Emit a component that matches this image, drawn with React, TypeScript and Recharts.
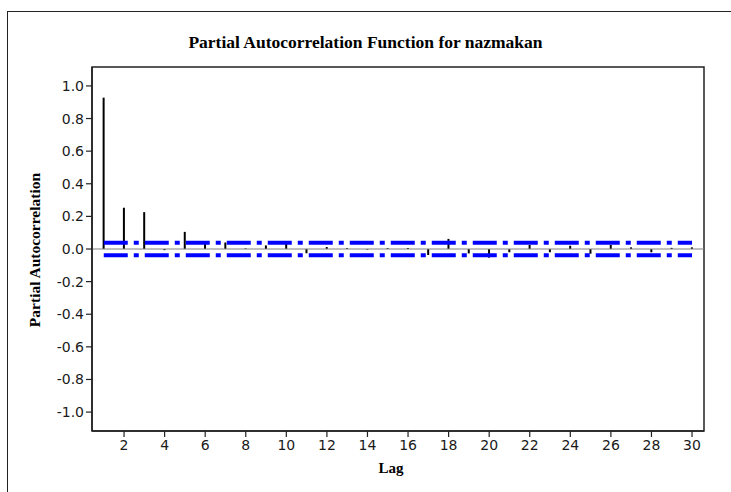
import {
  ComposedChart,
  Bar,
  Line,
  XAxis,
  YAxis,
  ReferenceLine,
  ReferenceArea,
} from "recharts";

const lags = [
  1, 2, 3, 4, 5, 6, 7, 8, 9, 10, 11, 12, 13, 14, 15, 16, 17, 18, 19, 20, 21, 22,
  23, 24, 25, 26, 27, 28, 29, 30,
];

const pacf = [
  0.928, 0.253, 0.226, -0.007, 0.105, 0.035, 0.04, 0.004, 0.022, 0.032, -0.026,
  0.012, 0.005, -0.004, 0.005, 0.006, -0.037, 0.062, -0.027, -0.053, -0.02,
  0.025, -0.02, 0.02, -0.029, 0.025, 0.01, -0.02, 0.007, 0.01,
];

// 5% significance limits
const upperLimit = 0.039;
const lowerLimit = -0.039;

const xDomain = [0.42, 30.59];
const yDomain = [-1.116, 1.116];
const xTicks = [2, 4, 6, 8, 10, 12, 14, 16, 18, 20, 22, 24, 26, 28, 30];
const yTicks = [-1, -0.8, -0.6, -0.4, -0.2, 0, 0.2, 0.4, 0.6, 0.8, 1];

const data = lags.map((lag, i) => ({
  lag,
  pacf: pacf[i],
  upper: upperLimit,
  lower: lowerLimit,
}));

const tickStyle = {
  fontFamily: "DejaVu Sans",
  fontSize: 14,
  fill: "#1a1a1a",
};

const serifBold = {
  fontFamily: "Liberation Serif",
  fontWeight: "bold" as const,
  color: "#000",
};

export default function App() {
  return (
    <div
      style={{
        position: "absolute",
        left: 0,
        top: 0,
        width: 731,
        height: 492,
        background: "#fff",
      }}
    >
      {/* outer figure frame */}
      <div
        style={{
          position: "absolute",
          left: 7,
          top: 11,
          width: 740,
          height: 500,
          borderLeft: "1px solid #222",
          borderTop: "1px solid #222",
        }}
      />

      <div
        style={{
          ...serifBold,
          position: "absolute",
          left: 0,
          width: 731,
          top: 32,
          textAlign: "center",
          fontSize: 17.5,
        }}
      >
        Partial Autocorrelation Function for nazmakan
      </div>

      <div
        style={{
          ...serifBold,
          position: "absolute",
          left: 35,
          top: 250,
          fontSize: 15.5,
          whiteSpace: "nowrap",
          transform: "translate(-50%, -50%) rotate(-90deg)",
        }}
      >
        Partial Autocorrelation
      </div>

      <div
        style={{
          ...serifBold,
          position: "absolute",
          left: 0,
          width: 782,
          top: 460,
          textAlign: "center",
          fontSize: 15,
        }}
      >
        Lag
      </div>

      <ComposedChart
        width={731}
        height={492}
        data={data}
        margin={{ top: 67, right: 27, bottom: 31, left: 0 }}
      >
        <XAxis
          dataKey="lag"
          type="number"
          domain={xDomain}
          ticks={xTicks}
          allowDataOverflow
          tick={tickStyle}
          tickSize={6}
          tickMargin={3}
          height={30}
          axisLine={{ stroke: "#222", strokeWidth: 1.5 }}
          tickLine={{ stroke: "#222", strokeWidth: 1.2 }}
        />
        <YAxis
          type="number"
          domain={yDomain}
          ticks={yTicks}
          allowDataOverflow
          tickFormatter={(v: number) => v.toFixed(1)}
          tick={tickStyle}
          tickSize={6}
          tickMargin={2}
          width={92}
          axisLine={{ stroke: "#222", strokeWidth: 1.5 }}
          tickLine={{ stroke: "#222", strokeWidth: 1.2 }}
        />
        {/* plot frame */}
        <ReferenceArea
          x1={xDomain[0]}
          x2={xDomain[1]}
          y1={yDomain[0]}
          y2={yDomain[1]}
          fill="none"
          fillOpacity={0}
          stroke="#222"
          strokeWidth={1.5}
          strokeOpacity={1}
          ifOverflow="visible"
        />
        <ReferenceLine y={0} stroke="#808080" strokeWidth={1.2} />
        <Bar
          dataKey="pacf"
          fill="#000"
          barSize={2}
          isAnimationActive={false}
        />
        <Line
          dataKey="upper"
          stroke="#0000ff"
          strokeWidth={4}
          strokeDasharray="24 6 5 6"
          dot={false}
          activeDot={false}
          isAnimationActive={false}
        />
        <Line
          dataKey="lower"
          stroke="#0000ff"
          strokeWidth={4}
          strokeDasharray="24 6 5 6"
          dot={false}
          activeDot={false}
          isAnimationActive={false}
        />
      </ComposedChart>
    </div>
  );
}
